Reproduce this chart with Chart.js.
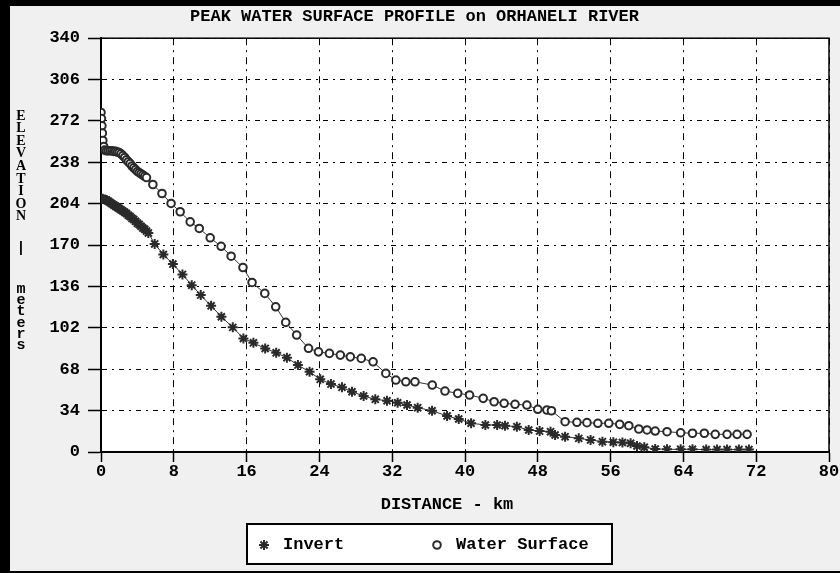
<!DOCTYPE html>
<html>
<head>
<meta charset="utf-8">
<script src="https://cdn.jsdelivr.net/npm/chart.js@4.4.1/dist/chart.umd.min.js"></script>
<style>
html,body{margin:0;padding:0;background:#f0f0f0;}
#wrap{width:840px;height:573px;position:relative;}
</style>
</head>
<body>
<div id="wrap"><canvas id="c"></canvas></div>
<script>
// ---------------- data ----------------
const chartTitle = 'PEAK WATER SURFACE PROFILE on ORHANELI RIVER';
const xAxisTitle = 'DISTANCE - km';
const yTitleUpper = 'ELEVATION';
const yTitleSep = '|';
const yTitleLower = 'meters';
const seriesNames = ['Invert', 'Water Surface'];
const xTickValues = [0, 8, 16, 24, 32, 40, 48, 56, 64, 72, 80];
const yTickValues = [0, 34, 68, 102, 136, 170, 204, 238, 272, 306, 340];

const invertKm = [0.0,0.2,0.4,0.6,0.8,1.0,1.2,1.4,1.6,1.8,2.0,2.2,2.4,2.6,2.8,3.0,3.2,3.4,3.6,3.8,4.0,4.2,4.4,4.6,4.8,5.0,5.2,
  5.9,6.85,7.9,8.95,9.97,10.96,12.1,13.23,14.48,15.65,16.75,18.04,19.25,20.43,21.64,22.92,24.09,25.27,26.48,27.58,
  28.86,30.14,31.43,32.6,33.63,34.8,36.38,38.03,39.31,40.67,42.24,43.53,44.4,45.7,47.0,48.2,49.4,49.9,51.0,52.5,
  53.8,55.1,56.3,57.3,58.2,58.9,59.7,60.9,62.2,63.7,65.0,66.5,67.7,68.8,70.1,71.2];
const invertElev = [208,208,207.5,207,206,205,204,203,202,201,200,199,198,197,196,194.5,193.5,192,191,189.5,188,187,185.5,184,183,181.5,180,
  171,162.3,154.4,145.9,137.1,128.9,120.1,111.1,102.4,93.3,89.7,85.1,81.5,77.5,71.4,65.9,59.7,55.8,53.1,49.5,
  46.0,43.3,42.1,40.5,38.6,36.4,33.9,29.6,27.1,23.6,22.2,22.2,21.6,20.8,18.1,17.2,16.7,14.0,12.6,11.2,
  9.9,8.5,8.0,7.8,7.1,4.9,3.9,2.5,2.2,2.2,2.2,2,2,2,2,2];

const waterKm = [0.0,0.05,0.1,0.15,0.2,0.3,0.4,0.6,0.8,1.0,1.2,1.4,1.6,1.8,2.0,2.2,2.4,2.6,2.8,3.0,3.2,3.4,3.6,3.8,4.0,4.2,4.4,4.6,4.8,5.0,
  5.7,6.7,7.7,8.7,9.8,10.8,12.0,13.2,14.3,15.6,16.6,18.0,19.2,20.3,21.5,22.8,23.9,25.1,26.3,27.4,
  28.6,29.9,31.3,32.4,33.5,34.5,36.4,37.8,39.2,40.5,42.0,43.2,44.3,45.5,46.8,48.0,49.0,49.5,51.0,52.3,
  53.4,54.6,55.8,57.0,58.0,59.1,60.0,60.9,62.2,63.7,65.0,66.3,67.5,68.8,69.9,71.0];
const waterElev = [279,274,268,262,256,251,248,247.5,247.5,247.5,247.5,247,247,246.5,246,245,243.5,242,240,238.5,237,235,233.5,232,230.5,229.5,228.5,227.5,226.5,225.5,
  219.8,212.4,204.2,197.4,189.1,183.7,176,169,160.9,151.6,139.3,130.3,119.3,106.5,96.1,85.2,82.3,81.0,79.6,78.2,
  76.9,74.1,64.6,59.1,57.7,57.7,55.0,50.1,48.2,46.8,44.1,41.3,40,39.2,38.6,35.1,34.5,33.9,24.9,24.4,
  24.1,23.6,23.6,22.7,21.6,18.9,18.1,17.2,16.7,15.8,15.4,15.4,14.5,14.5,14.5,14.5];

// ---------------- chart ----------------
const MONO = "'Liberation Mono','DejaVu Sans Mono',monospace";
const toPts = (xs, ys) => xs.map((x, i) => ({x: x, y: ys[i]}));

function drawMarker(ctx, style, r, bw, stroke, fill, x, y) {
  ctx.save();
  ctx.strokeStyle = stroke;
  ctx.fillStyle = fill;
  ctx.lineWidth = bw;
  ctx.beginPath();
  if (style === 'circle') {
    ctx.arc(x, y, r, 0, Math.PI * 2);
    ctx.fill();
  } else {
    for (let k = 0; k < 4; k++) {
      const ang = k * Math.PI / 4;
      ctx.moveTo(x - r * Math.cos(ang), y - r * Math.sin(ang));
      ctx.lineTo(x + r * Math.cos(ang), y + r * Math.sin(ang));
    }
  }
  ctx.stroke();
  ctx.restore();
}

const decor = {
  id: 'decor',
  beforeDraw(chart) {
    const {ctx, chartArea: a, width, height} = chart;
    ctx.save();
    ctx.fillStyle = '#f0f0f0';
    ctx.fillRect(0, 0, width, height);
    ctx.fillStyle = '#ffffff';
    ctx.fillRect(a.left, a.top, a.right - a.left, a.bottom - a.top);
    ctx.restore();
  },
  beforeDatasetsDraw(chart) {
    const {ctx, chartArea: a} = chart;
    ctx.save();
    ctx.strokeStyle = '#000';
    ctx.lineWidth = 1.5;
    ctx.strokeRect(a.left, a.top, a.right - a.left, a.bottom - a.top);
    ctx.restore();
  },
  afterDraw(chart) {
    const {ctx, width, height} = chart;
    ctx.save();
    // outer black frame
    ctx.fillStyle = '#000';
    ctx.fillRect(0, 0, width, 6);
    ctx.fillRect(0, 0, 10, height);
    ctx.fillRect(0, height - 2, width, 2);

    // stacked y-axis title
    ctx.textAlign = 'center';
    ctx.textBaseline = 'middle';
    ctx.font = "bold 14px 'Liberation Serif','DejaVu Serif',serif";
    [...yTitleUpper].forEach((ch, i) => ctx.fillText(ch, 21, 116 + i * 12.6));
    ctx.font = 'bold 14px ' + MONO;
    ctx.fillText(yTitleSep, 21, 248);
    ctx.font = 'bold 15px ' + MONO;
    [...yTitleLower].forEach((ch, i) => ctx.fillText(ch, 21, 289 + i * 11.3));

    // x-axis title
    ctx.font = 'bold 17px ' + MONO;
    ctx.fillText(xAxisTitle, 447, 505);

    // legend box
    const bx = 247, by = 524, bw = 365, bh = 40;
    ctx.fillStyle = '#fff';
    ctx.fillRect(bx, by, bw, bh);
    ctx.strokeStyle = '#000';
    ctx.lineWidth = 2;
    ctx.strokeRect(bx, by, bw, bh);
    const items = [{mx: 264, tx: 283}, {mx: 437, tx: 456}];
    chart.data.datasets.forEach((ds, i) => {
      const it = items[i];
      const cy = 545;
      drawMarker(ctx, ds.pointStyle, ds.pointRadius, ds.pointBorderWidth,
        ds.pointBorderColor, ds.pointBackgroundColor, it.mx, cy);
      ctx.fillStyle = '#000';
      ctx.textAlign = 'left';
      ctx.font = 'bold 17px ' + MONO;
      ctx.fillText(ds.label, it.tx, cy);
    });
    ctx.restore();
  }
};

new Chart(document.getElementById('c'), {
  type: 'scatter',
  data: {
    datasets: [
      {
        label: seriesNames[0],
        data: toPts(invertKm, invertElev),
        showLine: true,
        borderColor: '#333',
        borderWidth: 1,
        pointStyle: 'star',
        pointRadius: 5,
        pointBorderWidth: 2,
        pointBorderColor: '#2a2a2a',
        pointBackgroundColor: '#2a2a2a',
        pointHoverRadius: 5
      },
      {
        label: seriesNames[1],
        data: toPts(waterKm, waterElev),
        showLine: true,
        borderColor: '#333',
        borderWidth: 1,
        pointStyle: 'circle',
        pointRadius: 3.8,
        pointBorderWidth: 2,
        pointBorderColor: '#2a2a2a',
        pointBackgroundColor: '#ffffff',
        pointHoverRadius: 3.8
      }
    ]
  },
  options: {
    responsive: true,
    maintainAspectRatio: false,
    animation: false,
    events: [],
    layout: {padding: {left: 0, right: 11, top: 0, bottom: 58}},
    plugins: {
      legend: {display: false},
      tooltip: {enabled: false},
      title: {
        display: true,
        text: chartTitle,
        color: '#000',
        font: {family: MONO, size: 17, weight: 'bold'},
        padding: {top: 7, bottom: 10.8}
      }
    },
    scales: {
      x: {
        type: 'linear',
        min: xTickValues[0],
        max: xTickValues[xTickValues.length - 1],
        afterBuildTicks: (s) => { s.ticks = xTickValues.map(v => ({value: v})); },
        afterFit: (s) => { s.height = 63; },
        ticks: {
          color: '#000',
          font: {family: MONO, size: 17, weight: 'bold'},
          padding: 0,
          maxRotation: 0,
          autoSkip: false
        },
        grid: {
          color: '#000',
          lineWidth: 1,
          tickLength: 10,
          tickWidth: 1.5,
          tickColor: '#000',
          tickBorderDash: []
        },
        border: {display: true, color: '#000', width: 2, dash: [7, 5, 2, 5]}
      },
      y: {
        type: 'linear',
        min: yTickValues[0],
        max: yTickValues[yTickValues.length - 1],
        afterBuildTicks: (s) => { s.ticks = yTickValues.map(v => ({value: v})); },
        afterFit: (s) => { s.width = 101; },
        ticks: {
          color: '#000',
          font: {family: MONO, size: 17, weight: 'bold'},
          padding: 8,
          autoSkip: false
        },
        grid: {
          color: '#000',
          lineWidth: 1,
          tickLength: 13,
          tickWidth: 1.5,
          tickColor: '#000',
          tickBorderDash: []
        },
        border: {display: true, color: '#000', width: 2, dash: [5, 5, 2, 5]}
      }
    }
  },
  plugins: [decor]
});
</script>
</body>
</html>
